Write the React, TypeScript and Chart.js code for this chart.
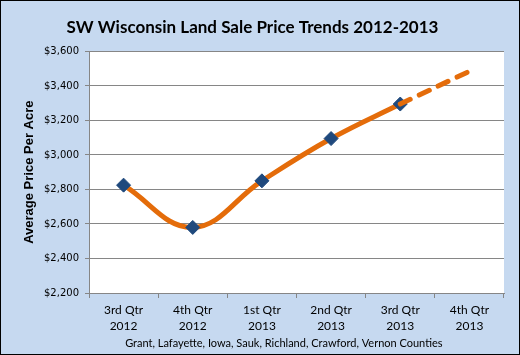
import React, { useEffect, useRef } from "react";
import { Chart, registerables } from "chart.js";

Chart.register(...registerables);

const categories: string[][] = [
  ["3rd Qtr", "2012"],
  ["4th Qtr", "2012"],
  ["1st Qtr", "2013"],
  ["2nd Qtr", "2013"],
  ["3rd Qtr", "2013"],
  ["4th Qtr", "2013"],
];
const actualPrices: (number | null)[] = [2825, 2580, 2850, 3095, 3295, null];
const projectedPrices: (number | null)[] = [null, null, null, null, 3295, 3485];
const yTickValues: number[] = [2200, 2400, 2600, 2800, 3000, 3200, 3400, 3600];

const chartTitle = "SW Wisconsin Land Sale Price Trends 2012-2013";
const yTitle = "Average Price Per Acre";
const xTitle = "Grant, Lafayette, Iowa, Sauk, Richland, Crawford, Vernon Counties";

const plotBg = {
  id: "plotBg",
  beforeDraw(chart: any) {
    const { ctx, chartArea } = chart;
    ctx.save();
    ctx.fillStyle = "#ffffff";
    ctx.fillRect(chartArea.left, chartArea.top, chartArea.right - chartArea.left, chartArea.bottom - chartArea.top);
    ctx.restore();
  },
};

export default function App() {
  const ref = useRef<HTMLCanvasElement>(null);
  useEffect(() => {
    if (!ref.current) return;
    const chart = new Chart(ref.current, {
      type: "line",
      data: {
        labels: categories,
        datasets: [
          {
            data: projectedPrices,
            borderColor: "#e46c0a",
            borderWidth: 5,
            borderDash: [11, 10],
            borderCapStyle: "round",
            pointRadius: 0,
            tension: 0.4,
            spanGaps: false,
          },
          {
            data: actualPrices,
            borderColor: "#e46c0a",
            borderWidth: 5,
            borderCapStyle: "round",
            pointStyle: "rectRot",
            pointRadius: 7,
            pointBackgroundColor: "#1f497d",
            pointBorderColor: "#1f497d",
            pointBorderWidth: 1,
            tension: 0.4,
          },
        ],
      },
      options: {
        animation: false,
        responsive: false,
        maintainAspectRatio: false,
        layout: { padding: { left: 0, right: 15, top: 0, bottom: 0 } },
        plugins: {
          legend: { display: false },
          tooltip: { enabled: false },
          title: {
            display: true,
            text: chartTitle,
            color: "#000000",
            font: { family: "Lato", size: 17, weight: "bold" },
            padding: { top: 16, bottom: 14 },
          },
        },
        scales: {
          x: {
            offset: true,
            grid: {
              offset: true,
              drawOnChartArea: false,
              drawTicks: true,
              tickLength: 5,
              color: "#868686",
            },
            border: { color: "#868686", width: 1 },
            ticks: {
              color: "#000000",
              font: { family: "Lato", size: 12, lineHeight: 1.35 },
              padding: 4,
              maxRotation: 0,
              autoSkip: false,
            },
            title: {
              display: true,
              text: xTitle + "         ",
              color: "#000000",
              font: { family: "Lato", size: 11 },
              padding: { top: 0, bottom: 4 },
            },
            afterFit(scale: any) {
              scale.height = 61;
            },
          },
          y: {
            min: 2200,
            max: 3600,
            afterBuildTicks(scale: any) {
              scale.ticks = yTickValues.map((v) => ({ value: v }));
            },
            grid: {
              color: "#868686",
              tickLength: 4,
            },
            border: { color: "#868686", width: 1 },
            ticks: {
              color: "#000000",
              font: { family: "DejaVu Sans", size: 10 },
              padding: 6,
              callback: (v: any) => "$" + Number(v).toLocaleString("en-US"),
            },
            title: {
              display: true,
              text: yTitle,
              color: "#000000",
              font: { family: "Liberation Sans", size: 13, weight: "bold" },
              padding: { top: 21, bottom: 6 },
            },
            afterFit(scale: any) {
              scale.width = 88;
            },
          },
        },
      },
      plugins: [plotBg],
    });
    return () => chart.destroy();
  }, []);

  return (
    <div
      style={{
        position: "fixed",
        left: 0,
        top: 0,
        width: 520,
        height: 355,
        boxSizing: "border-box",
        border: "1px solid #000",
        background: "#c6d9f0",
      }}
    >
      <canvas ref={ref} width={518} height={353} style={{ display: "block" }} />
    </div>
  );
}
